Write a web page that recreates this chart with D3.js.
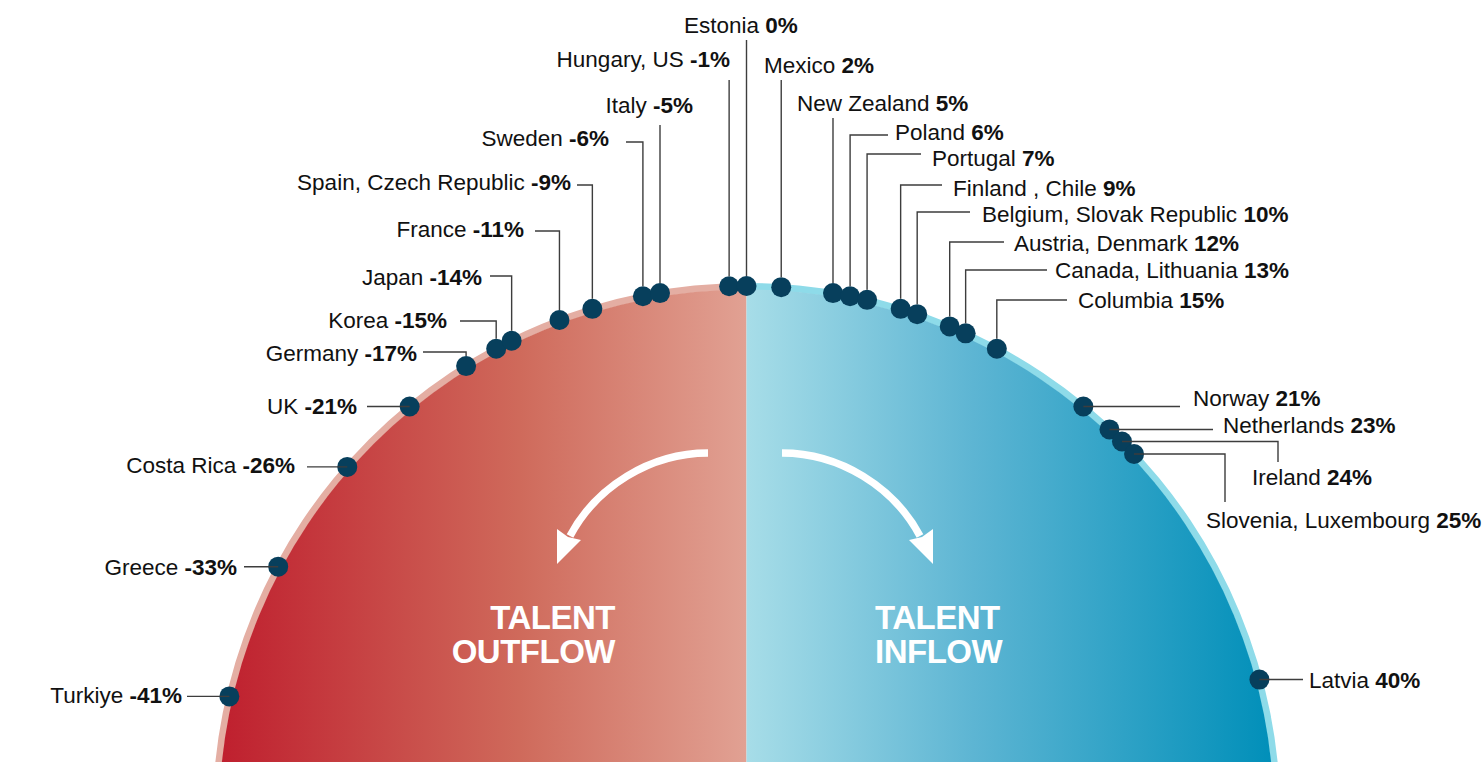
<!DOCTYPE html>
<html>
<head>
<meta charset="utf-8">
<script src="https://cdn.jsdelivr.net/npm/d3@7"></script>
<style>
  body { margin: 0; background: #fff; }
  svg { display: block; }
  text { font-family: "Liberation Sans", Arial, sans-serif; }
</style>
</head>
<body>
<script>
var countries = ["Turkiye", "Greece", "Costa Rica", "UK", "Germany", "Korea", "Japan", "France",
  "Spain, Czech Republic", "Sweden", "Italy", "Hungary, US", "Estonia", "Mexico", "New Zealand",
  "Poland", "Portugal", "Finland , Chile", "Belgium, Slovak Republic", "Austria, Denmark",
  "Canada, Lithuania", "Columbia", "Norway", "Netherlands", "Ireland", "Slovenia, Luxembourg", "Latvia"];
var values = [-41, -33, -26, -21, -17, -15, -14, -11, -9, -6, -5, -1, 0, 2, 5,
  6, 7, 9, 10, 12, 13, 15, 21, 23, 24, 25, 40];

var sideLabels = ["TALENT", "OUTFLOW", "TALENT", "INFLOW"];

// where each label sits (same order as countries)
var labelLayout = [
  {t: "h", end: 187, tx: 182, dy: 7},
  {t: "h", end: 244, tx: 237, dy: 8},
  {t: "h", end: 307, tx: 295, dy: 6},
  {t: "h", end: 367, tx: 357, dy: 7},
  {t: "elbow", ly: 352, end: 423, tx: 417, ty: 361},
  {t: "elbow", ly: 321, end: 460, tx: 447, ty: 328},
  {t: "elbow", ly: 276, end: 490, tx: 482, ty: 285},
  {t: "elbow", ly: 231, end: 535, tx: 524, ty: 237},
  {t: "elbow", ly: 185, end: 577, tx: 571, ty: 190},
  {t: "elbow", ly: 142, end: 626, tx: 609, ty: 146},
  {t: "up", top: 125, tx: 693, ty: 113, anchor: "end"},
  {t: "up", top: 80, tx: 730, ty: 67, anchor: "end"},
  {t: "up", top: 40, tx: 684, ty: 33, anchor: "start"},
  {t: "up", top: 80, tx: 764, ty: 73, anchor: "start"},
  {t: "up", top: 118, tx: 797, ty: 111, anchor: "start"},
  {t: "elbow", ly: 135, end: 888, tx: 895, ty: 140},
  {t: "elbow", ly: 154, end: 921, tx: 932, ty: 166},
  {t: "elbow", ly: 185, end: 942, tx: 953, ty: 196},
  {t: "elbow", ly: 212, end: 970, tx: 982, ty: 222},
  {t: "elbow", ly: 242, end: 1004, tx: 1014, ty: 251},
  {t: "elbow", ly: 270, end: 1047, tx: 1055, ty: 278},
  {t: "elbow", ly: 300, end: 1067, tx: 1078, ty: 308},
  {t: "h", end: 1180, tx: 1193, dy: -1},
  {t: "h", end: 1213, tx: 1223, dy: 4},
  {t: "hdown", end: 1278, bottom: 462, tx: 1252, ty: 485},
  {t: "hdown", end: 1225, bottom: 502, tx: 1206, ty: 528},
  {t: "h", end: 1303, tx: 1309, dy: 8}
];

var width = 1482, height = 762;
var cx = 746.5, cy = 817;
var rFill = 527.5, rOuter = 534, rDot = 531, dotR = 10;

var svg = d3.select("body").append("svg")
    .attr("width", width)
    .attr("height", height);

// gradients live in the user space of the circle group (origin at centre)
var defs = svg.append("defs");
var gl = defs.append("linearGradient").attr("id", "gLeft")
    .attr("gradientUnits", "userSpaceOnUse")
    .attr("x1", -rFill).attr("x2", 0).attr("y1", 0).attr("y2", 0);
gl.append("stop").attr("offset", "0%").attr("stop-color", "#bf1f2e");
gl.append("stop").attr("offset", "57%").attr("stop-color", "#cf6a5b");
gl.append("stop").attr("offset", "100%").attr("stop-color", "#e1a193");

var gr = defs.append("linearGradient").attr("id", "gRight")
    .attr("gradientUnits", "userSpaceOnUse")
    .attr("x1", 0).attr("x2", rFill).attr("y1", 0).attr("y2", 0);
gr.append("stop").attr("offset", "0%").attr("stop-color", "#a7dde8");
gr.append("stop").attr("offset", "43%").attr("stop-color", "#5db5d3");
gr.append("stop").attr("offset", "100%").attr("stop-color", "#008fb9");

// angle scale: value -> radians from 12 o'clock
var angle = d3.scaleLinear().domain([-48, 48]).range([-Math.PI / 2, Math.PI / 2]);

var half = svg.append("g").attr("transform", "translate(" + cx + "," + cy + ")");
var ring = d3.arc().innerRadius(rFill - 0.5).outerRadius(rOuter);
var fill = d3.arc().innerRadius(0).outerRadius(rFill);

half.append("path").attr("d", ring({startAngle: -Math.PI, endAngle: 0})).attr("fill", "#e4aea3");
half.append("path").attr("d", ring({startAngle: 0, endAngle: Math.PI})).attr("fill", "#8edbe9");
half.append("path").attr("d", fill({startAngle: -Math.PI, endAngle: 0})).attr("fill", "url(#gLeft)");
half.append("path").attr("d", fill({startAngle: 0, endAngle: Math.PI})).attr("fill", "url(#gRight)");

// arrows (mirrored about the middle)
var ax = cx - 1.5;
function arrow(s) {
  var X = function(dx) { return ax + s * dx; };
  svg.append("path")
    .attr("d", "M" + X(-37) + ",453 C" + X(-95) + ",453 " + X(-149) + ",487 " + X(-175) + ",536")
    .attr("fill", "none").attr("stroke", "#fff").attr("stroke-width", 7.5);
  svg.append("path")
    .attr("d", "M" + X(-188) + ",529 L" + X(-177) + ",537 L" + X(-164) + ",540 L" + X(-188) + ",564 Z")
    .attr("fill", "#fff");
}
arrow(1);
arrow(-1);

var side = svg.append("g")
    .attr("fill", "#fff").attr("font-weight", "bold")
    .attr("font-size", 33).attr("letter-spacing", -0.5);
side.append("text").attr("x", 615).attr("y", 629).attr("text-anchor", "end").text(sideLabels[0]);
side.append("text").attr("x", 615).attr("y", 663).attr("text-anchor", "end").text(sideLabels[1]);
side.append("text").attr("x", 875).attr("y", 629).text(sideLabels[2]);
side.append("text").attr("x", 875).attr("y", 663).text(sideLabels[3]);

var data = countries.map(function(c, i) {
  var a = angle(values[i]);
  return {name: c, value: values[i], x: cx + rDot * Math.sin(a), y: cy - rDot * Math.cos(a), L: labelLayout[i]};
});

var dots = svg.append("g").selectAll("circle")
    .data(data)
    .enter().append("circle")
    .attr("cx", function(d) { return d.x; })
    .attr("cy", function(d) { return d.y; })
    .attr("r", dotR)
    .attr("fill", "#073f5c");

var line = d3.line();
var leaders = svg.append("g");
var labels = svg.append("g");

data.forEach(function(d) {
  var L = d.L, pts, tx = L.tx, ty = L.ty;
  var anchor = L.anchor || (d.value < 0 ? "end" : "start");
  if (L.t == "h") {
    pts = [[d.x, d.y], [L.end, d.y]];
    ty = d.y + L.dy;
  } else if (L.t == "elbow") {
    pts = [[d.x, d.y - dotR], [d.x, L.ly], [L.end, L.ly]];
  } else if (L.t == "up") {
    pts = [[d.x, d.y - dotR], [d.x, L.top]];
  } else {
    pts = [[d.x, d.y], [L.end, d.y], [L.end, L.bottom]];
  }
  leaders.append("path")
    .attr("d", line(pts))
    .attr("fill", "none")
    .attr("stroke", "#3d3d3d")
    .attr("stroke-width", 1.4);

  var t = labels.append("text")
    .attr("x", tx).attr("y", ty)
    .attr("text-anchor", anchor)
    .attr("font-size", 22.5)
    .attr("fill", "#111");
  t.append("tspan").text(d.name + " ");
  t.append("tspan").attr("font-weight", "bold").text(d.value + "%");
});
</script>
</body>
</html>
